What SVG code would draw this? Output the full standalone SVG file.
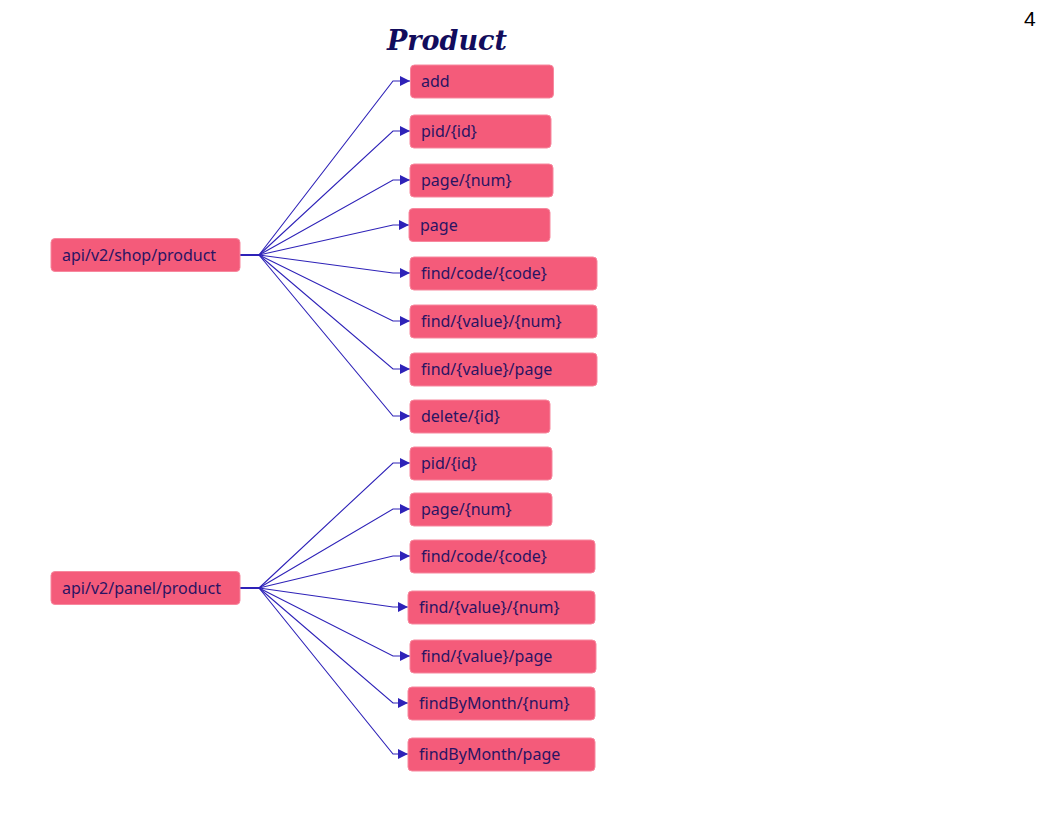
<svg xmlns="http://www.w3.org/2000/svg" width="1056" height="816" viewBox="0 0 1056 816">
<defs>
<style>
.n rect{fill:#F45B7A;stroke:#F7889E;stroke-width:1}
.n text{font-family:"Noto Sans","Open Sans",sans-serif;font-size:16px;fill:#2A1463}
.c path{fill:none;stroke:#2E22B8;stroke-width:1.1}
.c path.trunk{stroke-width:2}
.title{font-family:"DejaVu Serif",serif;font-weight:bold;font-style:italic;font-size:27px;fill:#120C5C}
.pg{font-family:"Liberation Sans",sans-serif;font-size:21px;fill:#000}
</style>
<marker id="ah" viewBox="0 0 10 10" refX="10" refY="5" markerWidth="10" markerHeight="10" markerUnits="userSpaceOnUse" orient="auto">
<path d="M0,0 L10,5 L0,10 z" fill="#2E22B8"/>
</marker>
</defs>
<rect width="1056" height="816" fill="#fff"/>
<text class="title" x="387" y="50">Product</text>
<text class="pg" x="1024" y="26">4</text>
<g id="connectors" class="c">
<path class="trunk" d="M240,255 H259"/>
<path d="M259,255 L393,81 H410" marker-end="url(#ah)"/>
<path d="M259,255 L393,131 H410" marker-end="url(#ah)"/>
<path d="M259,255 L393,180 H410" marker-end="url(#ah)"/>
<path d="M259,255 L393,225 H409" marker-end="url(#ah)"/>
<path d="M259,255 L393,273 H410" marker-end="url(#ah)"/>
<path d="M259,255 L393,321 H410" marker-end="url(#ah)"/>
<path d="M259,255 L393,369 H410" marker-end="url(#ah)"/>
<path d="M259,255 L393,416 H410" marker-end="url(#ah)"/>
<path class="trunk" d="M240,588 H259"/>
<path d="M259,588 L393,463 H410" marker-end="url(#ah)"/>
<path d="M259,588 L393,509 H410" marker-end="url(#ah)"/>
<path d="M259,588 L393,556 H410" marker-end="url(#ah)"/>
<path d="M259,588 L393,607 H408" marker-end="url(#ah)"/>
<path d="M259,588 L393,656 H410" marker-end="url(#ah)"/>
<path d="M259,588 L393,703 H408" marker-end="url(#ah)"/>
<path d="M259,588 L393,754 H408" marker-end="url(#ah)"/>
</g>
<g id="shop" class="n"><rect x="51" y="238.5" width="189" height="33" rx="4"/><text x="62" y="260.5">api/v2/shop/product</text></g>
<g id="s_add" class="n"><rect x="410.5" y="65" width="143" height="33" rx="4"/><text x="421" y="87">add</text></g>
<g id="s_pid" class="n"><rect x="410" y="115" width="141" height="33" rx="4"/><text x="421" y="137">pid/{id}</text></g>
<g id="s_pagenum" class="n"><rect x="410" y="164" width="143" height="33" rx="4"/><text x="421" y="186">page/{num}</text></g>
<g id="s_page" class="n"><rect x="409" y="208.5" width="141" height="33" rx="4"/><text x="420" y="230.5">page</text></g>
<g id="s_findcode" class="n"><rect x="410" y="257" width="187" height="33" rx="4"/><text x="421" y="279">find/code/{code}</text></g>
<g id="s_findvalnum" class="n"><rect x="410" y="305" width="187" height="33" rx="4"/><text x="421" y="327">find/{value}/{num}</text></g>
<g id="s_findvalpage" class="n"><rect x="410" y="353" width="187" height="33" rx="4"/><text x="421" y="375">find/{value}/page</text></g>
<g id="s_delete" class="n"><rect x="410" y="400" width="140" height="33" rx="4"/><text x="421" y="422">delete/{id}</text></g>
<g id="panel" class="n"><rect x="51" y="571.5" width="189" height="33" rx="4"/><text x="62" y="593.5">api/v2/panel/product</text></g>
<g id="p_pid" class="n"><rect x="410" y="447" width="142" height="33" rx="4"/><text x="421" y="469">pid/{id}</text></g>
<g id="p_pagenum" class="n"><rect x="410" y="493" width="142" height="33" rx="4"/><text x="421" y="515">page/{num}</text></g>
<g id="p_findcode" class="n"><rect x="410" y="540" width="185" height="33" rx="4"/><text x="421" y="562">find/code/{code}</text></g>
<g id="p_findvalnum" class="n"><rect x="408" y="591" width="187" height="33" rx="4"/><text x="419" y="613">find/{value}/{num}</text></g>
<g id="p_findvalpage" class="n"><rect x="410" y="640" width="186" height="33" rx="4"/><text x="421" y="662">find/{value}/page</text></g>
<g id="p_monthnum" class="n"><rect x="408" y="687" width="187" height="33" rx="4"/><text x="419" y="709">findByMonth/{num}</text></g>
<g id="p_monthpage" class="n"><rect x="408" y="738" width="187" height="33" rx="4"/><text x="419" y="760">findByMonth/page</text></g>
</svg>
